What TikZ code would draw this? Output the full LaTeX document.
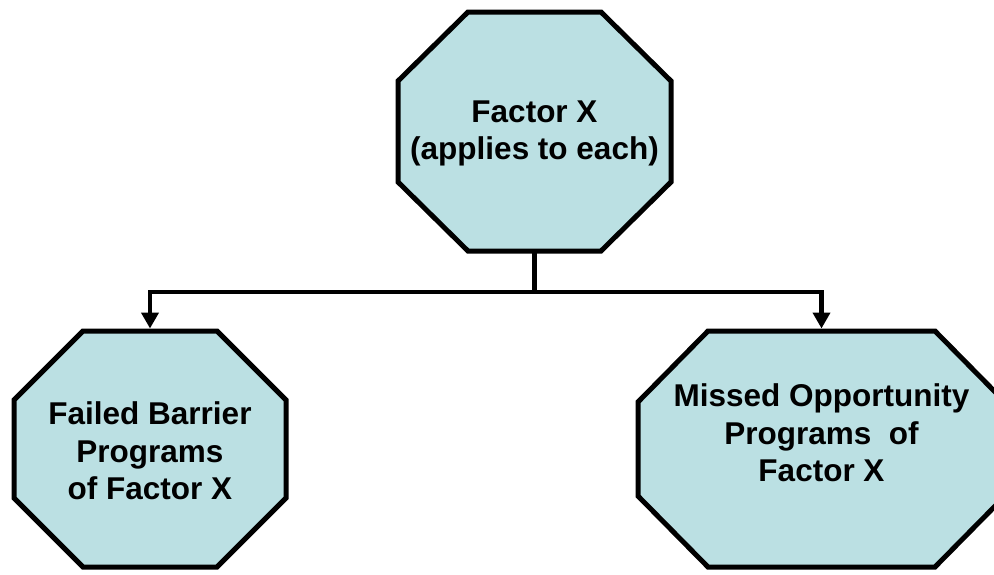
\documentclass[tikz,border=0pt]{standalone}
\usepackage{fontspec}
\setmainfont{Liberation Sans}
\usetikzlibrary{arrows.meta}

\definecolor{boxfill}{RGB}{187,224,227}

% draws an octagon on the border of a rectangular frame node
% #1 = frame node name, #2 = horizontal chamfer, #3 = vertical chamfer
\newcommand\octagonframe[3]{%
  \filldraw[octline]
    ([xshift=#2]#1.north west) -- ([xshift=-#2]#1.north east)
    -- ([yshift=-#3]#1.north east) -- ([yshift=#3]#1.south east)
    -- ([xshift=-#2]#1.south east) -- ([xshift=#2]#1.south west)
    -- ([yshift=#3]#1.south west) -- ([yshift=-#3]#1.north west) -- cycle;}

\tikzset{
  frame/.style={rectangle, draw=none, inner sep=0pt, outer sep=0pt},
  octline/.style={line width=5pt, line join=miter, draw=black, fill=boxfill},
  lbl/.style={align=center, font=\bfseries\fontsize{31.5}{37.5}\selectfont, inner sep=0pt},
  conn/.style={line width=4.6pt, line join=miter, draw=black,
    -{Triangle[width=17pt,length=16pt]}, shorten >=2.5pt},
}

\begin{document}
\begin{tikzpicture}[x=1pt,y=-1pt]
  \useasboundingbox (0,0) rectangle (994,574);
  \clip (0,0) rectangle (994,574);

  % frames of the three octagons
  \node[frame, minimum width=273pt, minimum height=239pt] (top)   at (534.5,131.5) {};
  \node[frame, minimum width=272pt, minimum height=236pt] (left)  at (150,449) {};
  \node[frame, minimum width=367pt, minimum height=236pt] (right) at (821.5,449) {};

  \octagonframe{top}{70pt}{69pt}
  \octagonframe{left}{69pt}{69pt}
  \octagonframe{right}{70pt}{71pt}

  % texts
  \node[lbl] (topText)   at ([yshift=-2pt]top.center)  {Factor X\\(applies to each)};
  \node[lbl] (leftText)  at ([yshift=-2pt]left.center) {Failed Barrier\\Programs\\of Factor X};
  \node[lbl] (rightText) at ([yshift=16pt]right.center) {Missed Opportunity\\Programs~ of\\Factor X};

  % connectors
  \coordinate (bus) at ([yshift=-41pt]top.south);
  \draw[conn] (top.south) -- (bus) -| (left.north);
  \draw[conn] (top.south) -- (bus) -| (right.north);
\end{tikzpicture}
\end{document}
